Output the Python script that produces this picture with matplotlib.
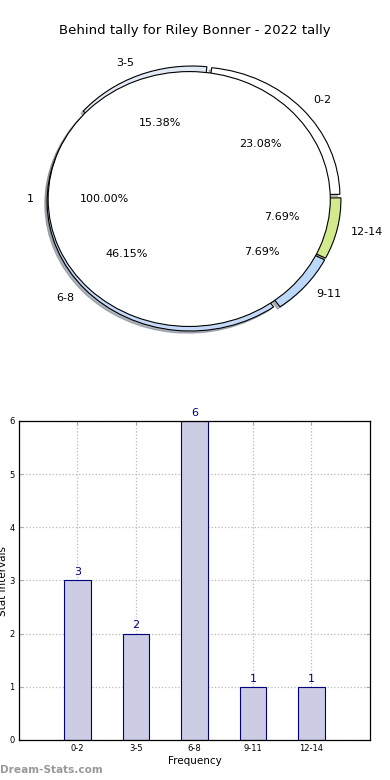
"""Behind tally pie + frequency bars for Riley Bonner."""

import numpy as np
import matplotlib
matplotlib.use("Agg")
import matplotlib.pyplot as plt

title = "Behind tally for Riley Bonner - 2022 tally"

# outer ring / bars
bins = ["0-2", "3-5", "6-8", "9-11", "12-14"]
counts = [3, 2, 6, 1, 1]
# pie goes clockwise from the top: 0-2, 12-14, 9-11, 6-8, 3-5
ring_labels = ["0-2", "12-14", "9-11", "6-8", "3-5"]
ring_counts = [3, 1, 1, 6, 2]
ring_colors = ["#ffffff", "#d2ea8c", "#bcd8f8", "#c4daf8", "#e2eaf6"]

# inner pie
inner_labels = ["1"]
inner_counts = [1]

fig = plt.figure(figsize=(3.9, 7.8), dpi=100)

shadow_kw = {"ox": -0.012, "oy": -0.012, "shade": 0.5}

# ---- pie ----
ax1 = fig.add_axes([0.0372, 0.5375, 0.918, 0.4147])
ax1.pie(
    ring_counts,
    labels=ring_labels,
    colors=ring_colors,
    autopct="%.2f%%",
    startangle=84,
    counterclock=False,
    explode=[0.03] * len(ring_counts),
    shadow=shadow_kw,
    wedgeprops=dict(edgecolor="black", linewidth=0.8),
    textprops=dict(fontsize=8),
)
ax1.pie(
    inner_counts,
    labels=inner_labels,
    colors=["#ffffff"],
    autopct="%.2f%%",
    radius=0.985,
    explode=[0.03],
    shadow=shadow_kw,
    wedgeprops=dict(edgecolor="black", linewidth=0.8),
    textprops=dict(fontsize=8),
)
ax1.set_aspect("auto")
ax1.set_xlim(-1.25, 1.25)
ax1.set_ylim(-1.25, 1.25)

fig.text(0.4987, 0.9615, title, ha="center", va="center", fontsize=9.5)

# ---- bars ----
ax2 = fig.add_axes([0.0487, 0.0513, 0.9, 0.409])
x = np.arange(len(bins))
ax2.bar(x, counts, width=0.45, color="#ccccE4", edgecolor="#000080", linewidth=0.8, zorder=2)
for xi, c in zip(x, counts):
    ax2.text(xi, c + 0.06, str(c), ha="center", va="bottom", fontsize=8, color="#000080")

ax2.set_xlim(-1, 5)
ax2.set_ylim(0, 6)
ax2.set_xticks(x)
ax2.set_xticklabels(bins)
ax2.set_yticks(range(7))
ax2.tick_params(axis="both", labelsize=6, direction="in", length=3, color="#aaaaaa",
                top=True, right=True, pad=3)
ax2.grid(True, linestyle=":", color="#b8b8b8", linewidth=0.9, zorder=0)
ax2.set_axisbelow(True)
for s in ax2.spines.values():
    s.set_linewidth(0.9)
    s.set_color("black")

ax2.set_xlabel("Frequency", fontsize=7.5, labelpad=2)
fig.text(3.5 / 390, 1 - 581 / 780, "Stat Intervals", rotation=90, ha="center", va="center",
         fontsize=7.5)

fig.text(0.0, 1 - 770 / 780, "Dream-Stats.com", ha="left", va="center", fontsize=7.6,
         color="#999999", fontweight="bold")

fig.savefig("out.png", dpi=100)
